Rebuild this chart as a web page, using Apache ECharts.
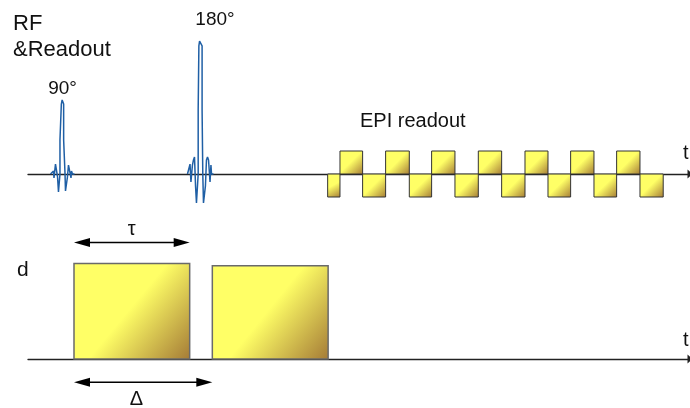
<!DOCTYPE html>
<html><head><meta charset="utf-8">
<script src="https://cdn.jsdelivr.net/npm/echarts@6/dist/echarts.min.js"></script>
<style>html,body{margin:0;padding:0;background:#fff}#c{width:690px;height:408px}</style>
</head><body><div id="c"></div>
<script>
// ---------- data (time in ms, amplitude in arbitrary units) ----------
const rf90Center = 3.0;
const rf90Dt  = [-1.04,-0.87,-0.78,-0.74,-0.61,-0.52,-0.43,-0.35,-0.26,-0.22,-0.22,-0.10,-0.10,-0.03,0.03,0.10,0.10,0.22,0.22,0.26,0.35,0.43,0.52,0.61,0.74,0.78,0.87,1.04];
const rf90Amp = [0,0,0.13,-0.17,0.43,0.39,-0.13,-0.78,-0.74,0,1.48,1.48,3.04,3.22,3.22,3.04,1.48,1.48,0,-0.74,-0.78,-0.13,0.39,0.43,-0.17,0.13,0,0];

const rf180Center = 15.0;
const rf180Dt  = [-1.13,-0.96,-0.91,-0.83,-0.70,-0.61,-0.52,-0.43,-0.35,-0.26,-0.20,-0.20,-0.14,-0.14,-0.08,0.08,0.14,0.14,0.20,0.20,0.26,0.35,0.43,0.52,0.61,0.70,0.83,0.91,0.96,1.13];
const rf180Amp = [0,0,0.43,-0.35,0.39,0.61,0.74,-0.52,-1.26,-1.26,0,2.78,2.78,5.57,5.78,5.78,5.57,2.78,2.78,0,-1.26,-1.26,-0.52,0.61,0.74,0.61,-0.35,0.39,0,0];

const epiEdges = [26.06,27.13,29.10,31.10,33.16,35.10,37.13,39.16,41.19,43.22,45.22,47.19,49.22,51.19,53.22,55.24];
const epiAmps  = [-1,1,-1,1,-1,1,-1,1,-1,1,-1,1,-1,1,-1];

const diffStart = [4.0, 16.03];
const diffEnd   = [14.06, 26.1];
const diffAmp   = [4.15, 4.05];

const arrowNames  = ['τ', 'Δ'];
const arrowStart  = [4.0, 4.0];
const arrowEnd    = [14.06, 16.03];
const arrowLevel  = [5.06, -1.01];
const arrowLabelT = [9.02, 9.43];
const arrowLabelLevel = [5.61, -1.78];

// ---------- build ----------
const FONT = '"Liberation Sans", Arial, sans-serif';
const gradFill = {type:'linear', x:0, y:0, x2:1, y2:1, colorStops:[
  {offset:0, color:'#ffff66'}, {offset:0.48, color:'#ffff66'}, {offset:1, color:'#a47a36'}]};

const rf90Data = rf90Dt.map((d,i)=>[rf90Center + d, rf90Amp[i]]);
const rf180Data = rf180Dt.map((d,i)=>[rf180Center + d, rf180Amp[i]]);
const epiData = epiAmps.map((a,i)=>[epiEdges[i], epiEdges[i+1], a]);
const diffData = diffAmp.map((a,i)=>[diffStart[i], diffEnd[i], a]);
const arrowData = arrowNames.map((n,i)=>[arrowStart[i], arrowEnd[i], arrowLevel[i], arrowLabelT[i], arrowLabelLevel[i], n]);

function rectItem(stroke, lw){
  return function(params, api){
    const p0 = api.coord([api.value(0), api.value(2)]);
    const p1 = api.coord([api.value(1), 0]);
    const x = Math.min(p0[0],p1[0]), y = Math.min(p0[1],p1[1]);
    return {type:'rect', shape:{x:x, y:y, width:Math.abs(p1[0]-p0[0]), height:Math.abs(p1[1]-p0[1])},
      style:{fill:gradFill, stroke:stroke, lineWidth:lw}};
  };
}

const axisCommon = {type:'value', min:0, max:57.57,
  axisLine:{onZero:true, lineStyle:{color:'#222', width:1.3}, symbol:['none','triangle'], symbolSize:[9,5]},
  axisTick:{show:false}, axisLabel:{show:false}, splitLine:{show:false}};

const chart = echarts.init(document.getElementById('c'), null, {renderer:'canvas'});
chart.setOption({
  animation:false,
  backgroundColor:'#fff',
  grid:[{left:28, right:0, top:36, height:184}, {left:28, right:0, top:232.5, height:172.5}],
  xAxis:[Object.assign({gridIndex:0}, axisCommon), Object.assign({gridIndex:1}, axisCommon)],
  yAxis:[{gridIndex:0, type:'value', min:-2, max:6, show:false},
         {gridIndex:1, type:'value', min:-2, max:5.5, show:false}],
  series:[
    {type:'line', xAxisIndex:0, yAxisIndex:0, data:rf90Data, showSymbol:false, silent:true,
      lineStyle:{color:'#1f5fa5', width:1.5}},
    {type:'line', xAxisIndex:0, yAxisIndex:0, data:rf180Data, showSymbol:false, silent:true,
      lineStyle:{color:'#1f5fa5', width:1.5}},
    {type:'custom', xAxisIndex:0, yAxisIndex:0, data:epiData, encode:{x:[0,1], y:2},
      renderItem:rectItem('#333', 1), silent:true},
    {type:'custom', xAxisIndex:1, yAxisIndex:1, data:diffData, encode:{x:[0,1], y:2},
      renderItem:rectItem('#6a6a6a', 1.5), silent:true},
    {type:'custom', xAxisIndex:1, yAxisIndex:1, data:arrowData, encode:{x:[0,1], y:2}, silent:true,
      renderItem:function(params, api){
        const a = api.coord([api.value(0), api.value(2)]);
        const b = api.coord([api.value(1), api.value(2)]);
        const l = api.coord([api.value(3), api.value(4)]);
        const y = a[1], L = 16, H = 4.5;
        return {type:'group', children:[
          {type:'line', shape:{x1:a[0]+L/2, y1:y, x2:b[0]-L/2, y2:y}, style:{stroke:'#000', lineWidth:1.5}},
          {type:'polygon', shape:{points:[[a[0],y],[a[0]+L,y-H],[a[0]+L,y+H]]}, style:{fill:'#000'}},
          {type:'polygon', shape:{points:[[b[0],y],[b[0]-L,y-H],[b[0]-L,y+H]]}, style:{fill:'#000'}},
          {type:'text', x:l[0], y:l[1], style:{text:arrowNames[params.dataIndex], font:'20px '+FONT, fill:'#111',
            textAlign:'center', align:'center', textVerticalAlign:'middle', verticalAlign:'middle'}}
        ]};
      }}
  ],
  graphic:[
    {type:'text', left:13, top:11, style:{text:'RF\n&Readout', font:'22px '+FONT, lineHeight:26, fill:'#111'}},
    {type:'text', x:62.5, y:88.5, style:{text:'90°', font:'19px '+FONT, fill:'#111', textAlign:'center', textVerticalAlign:'middle'}},
    {type:'text', x:215, y:19.3, style:{text:'180°', font:'19px '+FONT, fill:'#111', textAlign:'center', textVerticalAlign:'middle'}},
    {type:'text', x:360, y:121, style:{text:'EPI readout', font:'20px '+FONT, fill:'#111', textAlign:'left', textVerticalAlign:'middle'}},
    {type:'text', x:683, y:153, style:{text:'t', font:'20px '+FONT, fill:'#111', textAlign:'left', textVerticalAlign:'middle'}},
    {type:'text', x:683, y:340, style:{text:'t', font:'20px '+FONT, fill:'#111', textAlign:'left', textVerticalAlign:'middle'}},
    {type:'text', x:17, y:270, style:{text:'d', font:'21px '+FONT, fill:'#111', textAlign:'left', textVerticalAlign:'middle'}}
  ]
});
</script></body></html>
